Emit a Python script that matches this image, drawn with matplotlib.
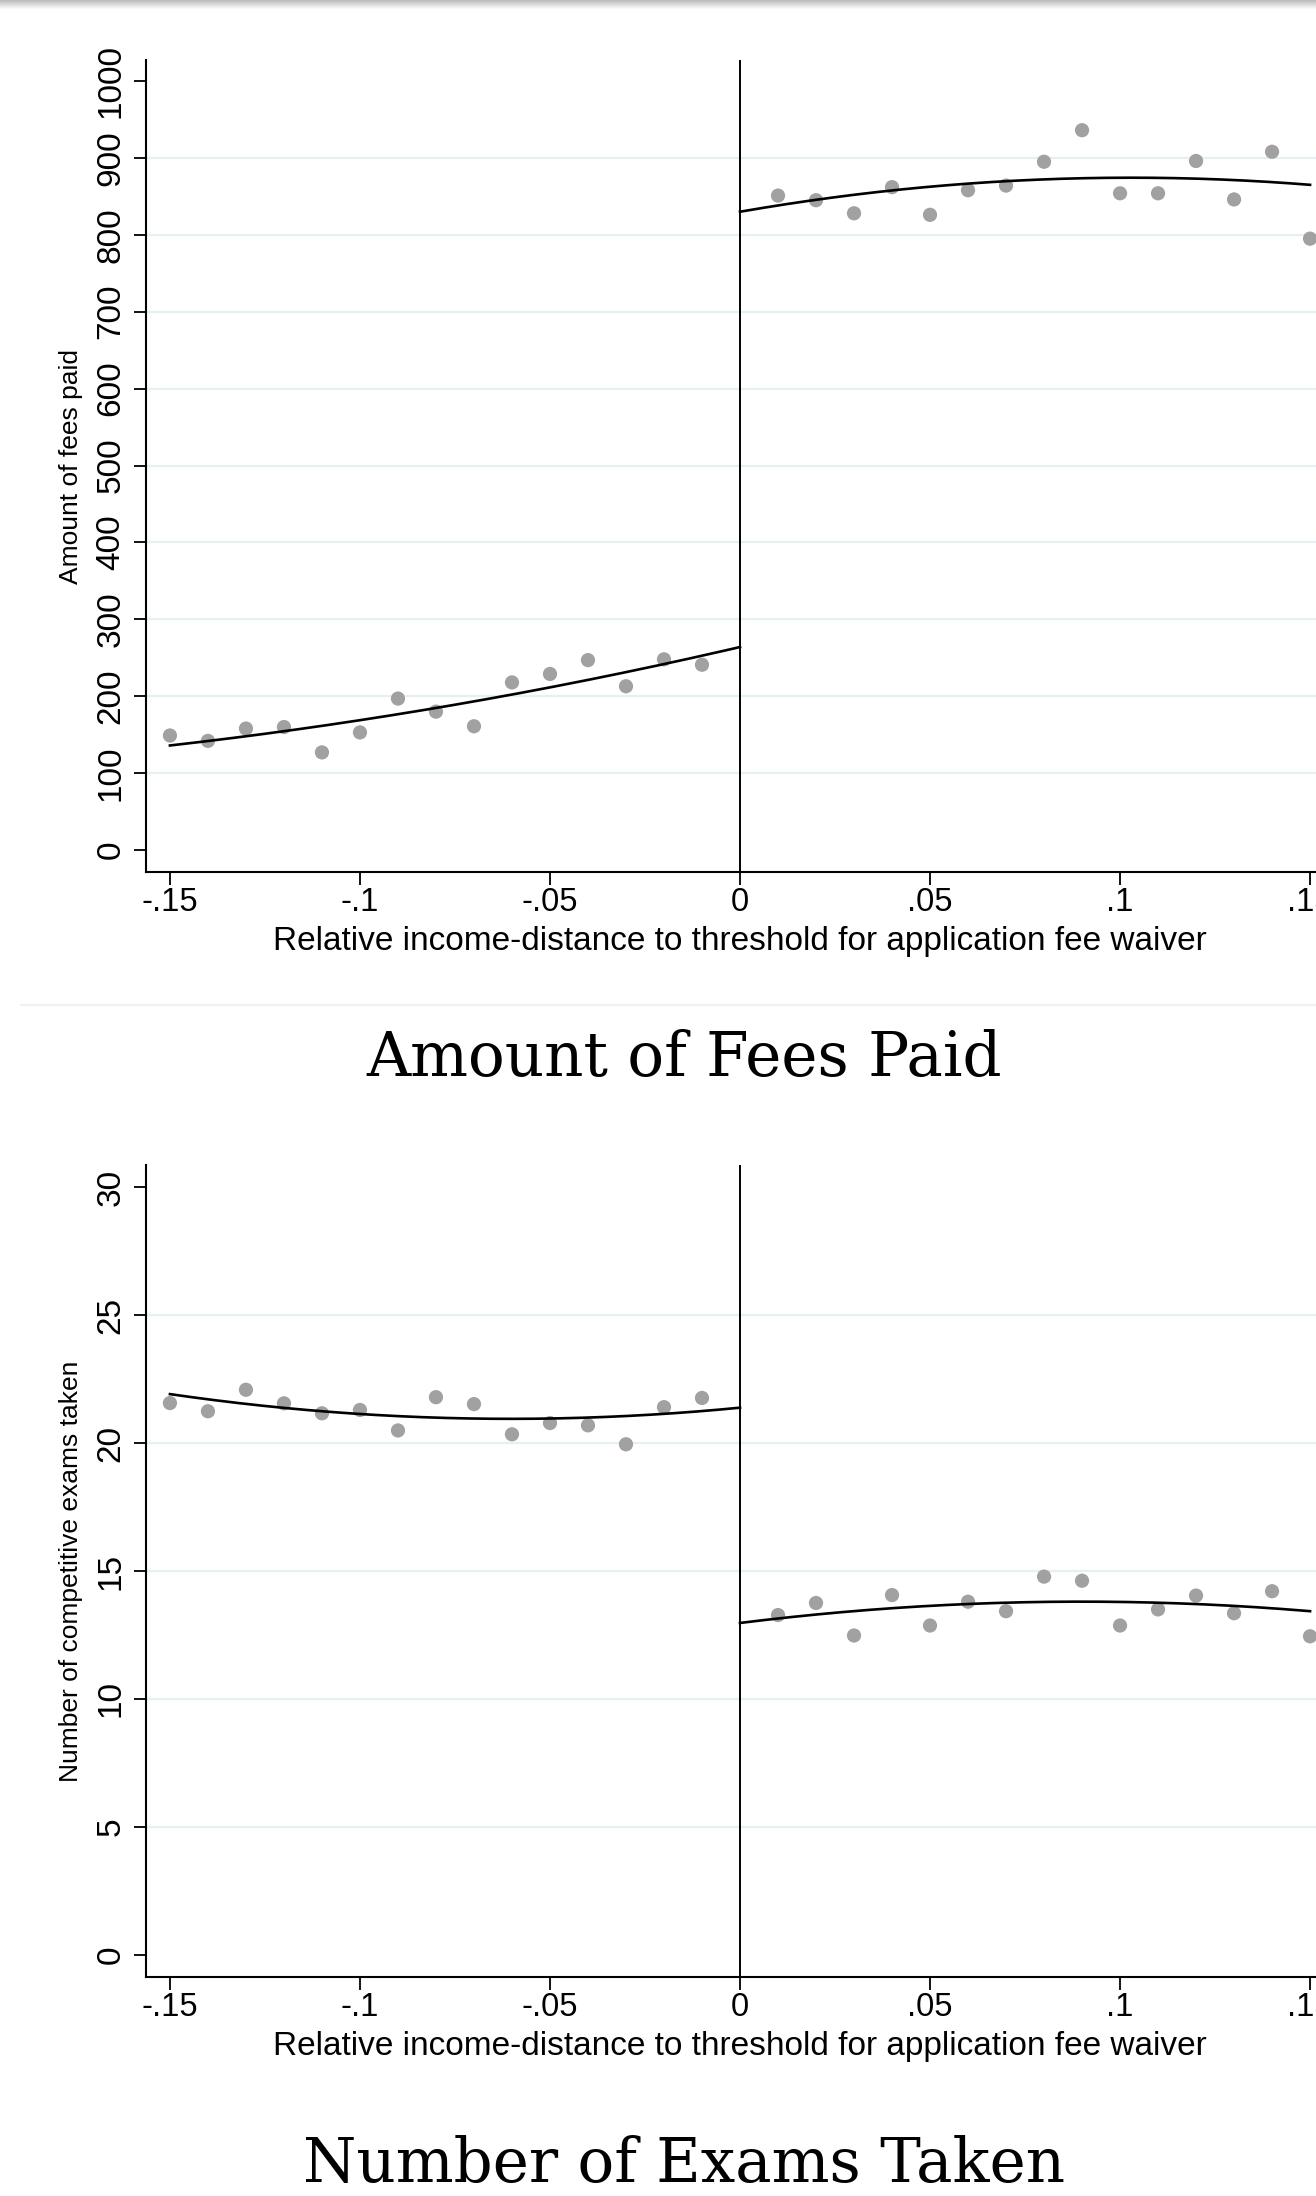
import numpy as np
import matplotlib
matplotlib.use("Agg")
import matplotlib.pyplot as plt
from matplotlib.lines import Line2D

# ---- binned means (bin midpoints of relative income-distance) ----
x_below = [-0.15, -0.14, -0.13, -0.12, -0.11, -0.10, -0.09, -0.08,
           -0.07, -0.06, -0.05, -0.04, -0.03, -0.02, -0.01]
x_above = [0.01, 0.02, 0.03, 0.04, 0.05, 0.06, 0.07, 0.08,
           0.09, 0.10, 0.11, 0.12, 0.13, 0.14, 0.15]

fees_below = [149, 142, 158, 160, 127, 153, 197, 180,
              161, 218, 229, 247, 213, 248, 241]
fees_above = [851, 845, 828, 862, 826, 858, 864, 895,
              936, 854, 854, 896, 846, 908, 795]

exams_below = [21.56, 21.24, 22.08, 21.55, 21.16, 21.29, 20.49, 21.79,
               21.52, 20.34, 20.78, 20.69, 19.95, 21.40, 21.76]
exams_above = [13.28, 13.75, 12.48, 14.06, 12.87, 13.80, 13.43, 14.78,
               14.62, 12.87, 13.50, 14.04, 13.35, 14.21, 12.45]

# quadratic fit (estimated on the underlying observations), given by its
# value at the start, middle and end of each side of the threshold
fit_x_below = [-0.15, -0.075, 0.0]
fit_x_above = [0.0, 0.075, 0.15]
fees_fit_below = [136, 189, 264]
fees_fit_above = [830, 871, 865]
exams_fit_below = [21.91, 20.97, 21.38]
exams_fit_above = [12.97, 13.78, 13.43]

x_ticks = [-0.15, -0.10, -0.05, 0.0, 0.05, 0.10, 0.15]
x_ticklabels = ["-.15", "-.1", "-.05", "0", ".05", ".1", ".15"]
fees_ticks = [0, 100, 200, 300, 400, 500, 600, 700, 800, 900, 1000]
exams_ticks = [0, 5, 10, 15, 20, 25, 30]

x_label = "Relative income-distance to threshold for application fee waiver"

W, H, DPI = 1316, 2196, 100
fig = plt.figure(figsize=(W / DPI, H / DPI), dpi=DPI)
fig.patch.set_facecolor("white")

SANS = ["Liberation Sans", "DejaVu Sans"]
SERIF = ["DejaVu Serif"]
GRID = "#e6eff2"
DOT = "#a1a1a1"


def px_box(left, top, right, bottom):
    return [left / W, 1 - bottom / H, (right - left) / W, (bottom - top) / H]


def draw_panel(ax, yb, ya, fit_b, fit_a, ticks, ylim, ylabel):
    ax.set_xlim(-0.1563, 0.1563)
    ax.set_ylim(*ylim)
    for t in ticks[1:-1]:
        ax.axhline(t, color=GRID, lw=1.6, zorder=0)
    ax.axvline(0, color="black", lw=1.4, zorder=2)

    ax.scatter(x_below, yb, s=105, color=DOT, edgecolors="none", zorder=3)
    ax.scatter(x_above, ya, s=105, color=DOT, edgecolors="none", zorder=3)

    # quadratic fit curves on each side of the threshold
    for fx, fy in ((fit_x_below, fit_b), (fit_x_above, fit_a)):
        coef = np.polyfit(fx, fy, 2)
        grid = np.linspace(fx[0], fx[-1], 200)
        ax.plot(grid, np.polyval(coef, grid), color="black", lw=1.9, zorder=4)

    for side in ("top", "right"):
        ax.spines[side].set_visible(False)
    for side in ("left", "bottom"):
        ax.spines[side].set_linewidth(1.5)

    ax.set_xticks(x_ticks)
    ax.set_xticklabels(x_ticklabels, fontfamily=SANS, fontsize=23.5)
    ax.set_yticks(ticks)
    ax.set_yticklabels([str(t) for t in ticks], fontfamily=SANS,
                       fontsize=24, rotation=90, va="center")
    ax.tick_params(axis="x", length=9, width=1.3, pad=2)
    ax.tick_params(axis="y", length=9, width=1.3, pad=5)

    ax.set_xlabel(x_label, fontfamily=SANS, fontsize=24)
    ax.xaxis.set_label_coords(0.5, -0.066)
    ax.set_ylabel(ylabel, fontfamily=SANS, fontsize=19, va="center")
    ax.yaxis.set_label_coords(-0.0631, 0.5)


ax1 = fig.add_axes(px_box(146, 60, 1334, 872))
draw_panel(ax1, fees_below, fees_above, fees_fit_below, fees_fit_above,
           fees_ticks, (-28.5, 1027.3), "Amount of fees paid")

ax2 = fig.add_axes(px_box(146, 1165, 1334, 1977))
draw_panel(ax2, exams_below, exams_above, exams_fit_below, exams_fit_above,
           exams_ticks, (-0.86, 30.86), "Number of competitive exams taken")

fig.text(684 / W, 1 - 1076 / H, "Amount of Fees Paid", fontfamily=SERIF,
         fontsize=44, ha="center", va="baseline")
fig.text(684 / W, 1 - 2182 / H, "Number of Exams Taken", fontfamily=SERIF,
         fontsize=44, ha="center", va="baseline")

# faint divider between the two panels
fig.add_artist(Line2D([21 / W, 1.0], [1 - 1005 / H] * 2, color="#eef2f2",
                      lw=1.5))

# soft shadow along the top edge
shadow = fig.add_axes([0, 1 - 10 / H, 1, 10 / H])
grad = np.linspace(0.74, 1.0, 10).reshape(-1, 1)
shadow.imshow(grad, aspect="auto", cmap="gray", vmin=0, vmax=1,
              extent=[0, 1, 0, 1])
shadow.axis("off")

fig.savefig("out.png", dpi=DPI, facecolor="white")
